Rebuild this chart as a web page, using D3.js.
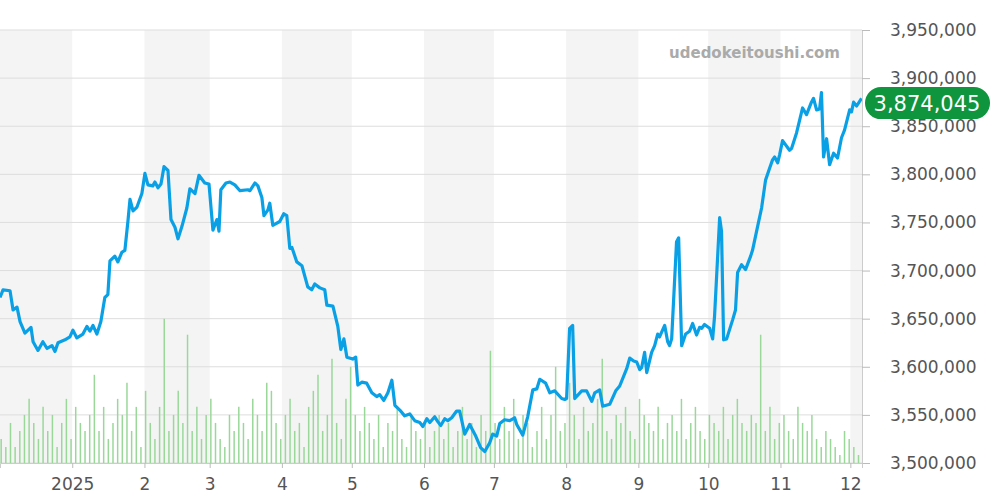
<!DOCTYPE html>
<html><head><meta charset="utf-8">
<script src="https://cdn.jsdelivr.net/npm/d3@7"></script>
<style>body{margin:0;background:#fff;font-family:"DejaVu Sans",sans-serif}</style>
</head><body>
<script>
// days since 2024-12-01 and price
var priceDays = [0,1.3,4.3,5.6,7.3,8.6,10.7,13.3,14.2,16.3,18.4,20.2,22.3,23.6,24.9,27.9,30,31.3,33,35.6,37.3,38.6,39.9,41.6,43.3,45,46.3,47.2,49.3,50.6,52.3,53.6,54.9,55.8,57.1,58.8,60.9,62.2,63.5,65.6,66.5,67.8,69.1,70.4,72.1,73.4,75.1,76.4,78.1,80.2,81.5,83.7,85.4,87.9,89.7,91.4,93.1,94,94.8,97,98.7,100.8,103,106.4,107.3,109.4,110.7,112.4,113.3,115,115.8,117.1,120.1,121.8,123.1,124.4,125.3,127.4,129.6,132.1,133.8,135.1,137.3,139.4,140.3,142.9,145,146.3,147.6,148.9,151.4,152.7,153.6,155.3,157.4,159.6,161.7,163,164.7,166.5,168.2,169.5,171.6,173.7,175.9,178,180.2,181.5,183.2,184.5,186.6,187.9,189.2,190.9,192.2,193.9,196,197.3,199.5,201.6,204.2,206.3,208.1,210.2,211.5,213.2,214.5,216.6,218.8,220.9,221.8,224.4,226.5,228.7,230.4,231.7,234.2,236,238.1,241.1,242.4,243.2,244.5,245.8,246.7,249.7,251.8,254,255.3,257.4,258.7,261.7,264.3,266,269,270.3,272,273.3,274.6,275.4,276.7,277.6,279.7,281,282.3,283.1,285.3,286.6,287.4,288.3,290.4,291.3,292.6,294.3,296,297.3,299,300.3,301.2,302.4,304.6,305.9,306.7,308.9,309.7,310.6,311.9,314.5,315.7,316.6,318.3,320,322.2,323,325.2,326.9,328.6,330.3,331.6,332.5,333.8,334.6,335.9,338.9,339.8,341.9,343.2,344.5,346.2,348.3,349.2,350.5,351.8,352.6,353.5,354.8,356.1,357.8,359.5,361.2,362.5,364.7,365.5,366.4,367.7,369.8];
var priceVals = [3672,3680,3679,3659,3662,3647,3635,3641,3626,3617,3626,3619,3622,3616,3625,3628,3631,3638,3630,3634,3642,3637,3643,3634,3647,3672,3675,3710,3715,3709,3719,3721,3751,3774,3762,3766,3780,3801,3789,3788,3792,3786,3790,3808,3804,3753,3745,3733,3746,3765,3785,3780,3799,3791,3790,3742,3753,3741,3784,3791,3792,3789,3783,3784,3783,3791,3788,3776,3757,3763,3770,3747,3751,3759,3757,3723,3724,3709,3705,3683,3680,3686,3682,3680,3664,3663,3642,3618,3629,3610,3608,3610,3581,3584,3583,3573,3569,3571,3565,3573,3586,3560,3555,3549,3551,3544,3542,3538,3546,3542,3548,3543,3539,3546,3544,3547,3554,3554,3530,3540,3528,3516,3512,3521,3530,3528,3541,3545,3544,3547,3540,3529,3548,3576,3577,3587,3583,3573,3575,3567,3566,3567,3640,3643,3567,3575,3575,3564,3573,3576,3559,3561,3575,3580,3598,3609,3606,3605,3597,3599,3615,3594,3615,3622,3634,3631,3643,3626,3622,3629,3730,3734,3622,3634,3637,3645,3633,3641,3640,3644,3640,3629,3652,3755,3741,3628,3629,3649,3659,3698,3706,3701,3715,3721,3746,3765,3794,3806,3815,3818,3812,3820,3835,3825,3827,3843,3856,3869,3862,3875,3879,3867,3868,3885,3818,3837,3810,3822,3817,3838,3846,3867,3865,3875,3871,3879,3874];
// trade counts, one per two days
var volumes = [3,2,5,2,4,6,8,5,3,7,4,6,2,5,8,3,7,5,4,6,
  11,4,7,3,5,8,6,10,4,7,2,9,5,3,7,18,4,6,9,5,
  16,4,7,3,6,8,5,3,2,6,4,7,5,3,8,6,4,10,9,5,
  3,6,8,4,5,2,7,9,11,4,6,13,5,3,8,12,6,4,7,5,
  3,6,2,5,4,7,3,2,6,4,3,5,2,4,6,3,5,2,4,7,
  3,5,2,6,4,14,5,3,7,4,8,3,6,5,2,4,7,3,6,12,
  4,5,10,6,3,7,4,5,8,13,4,3,6,5,7,4,3,8,6,5,
  4,7,3,5,6,4,8,3,5,7,4,3,6,5,4,7,3,6,8,5,
  4,6,5,16,4,7,3,5,6,4,3,7,5,4,6,3,2,4,3,2,
  1,4,3,2,1];
var yTicks = [3500000,3550000,3600000,3650000,3700000,3750000,3800000,3850000,3900000,3950000];
var lastPrice = 3874045;

var W = 1000, H = 500, plotR = 862, plotTop = 30, plotBottom = 463;
var start = new Date(2024, 11, 1), end = new Date(2025, 11, 6);
var dayMs = 864e5;
var x = d3.scaleTime().domain([start, end]).range([0, plotR]);
var y = d3.scaleLinear().domain([3500000, 3950000]).range([plotBottom, plotTop]);
var yv = d3.scaleLinear().domain([0, 54]).range([plotBottom, plotTop]);
var toDate = function(d){ return new Date(start.getTime() + d * dayMs); };

var svg = d3.select("body").append("svg").attr("width", W).attr("height", H);

// alternate month shading
var months = d3.timeMonth.range(start, d3.timeMonth.offset(end, 1));
svg.selectAll(".band").data(months.filter(function(m, i){ return i % 2 == 0; }))
  .enter().append("rect")
  .attr("x", function(m){ return x(m); })
  .attr("width", function(m){ return Math.min(x(d3.timeMonth.offset(m, 1)), plotR) - x(m); })
  .attr("y", plotTop).attr("height", plotBottom - plotTop)
  .attr("fill", "#f4f4f4");

// grid
svg.selectAll(".grid").data(yTicks).enter().append("line")
  .attr("x1", 0).attr("x2", plotR)
  .attr("y1", function(d){ return y(d); }).attr("y2", function(d){ return y(d); })
  .attr("stroke", "#dddddd");

// volume
svg.selectAll(".vol").data(volumes).enter().append("line")
  .attr("x1", function(d, i){ return x(toDate(i * 2 + 0.5)); })
  .attr("x2", function(d, i){ return x(toDate(i * 2 + 0.5)); })
  .attr("y1", plotBottom).attr("y2", function(d){ return yv(d); })
  .attr("stroke", "#9ad89a").attr("stroke-width", 1.5);

// watermark
svg.append("text").attr("x", 840).attr("y", 58).attr("text-anchor", "end")
  .attr("font-size", 15).attr("font-weight", "bold").attr("fill", "#aaaaaa")
  .text("udedokeitoushi.com");

// price line
var pts = priceDays.map(function(d, i){ return [toDate(d), priceVals[i] * 1000]; });
svg.append("path").datum(pts)
  .attr("fill", "none").attr("stroke", "#0aa0e6").attr("stroke-width", 3.2)
  .attr("stroke-linejoin", "round")
  .attr("d", d3.line().x(function(d){ return x(d[0]); }).y(function(d){ return y(d[1]); }));

// y axis
var yAxis = d3.axisRight(y).tickValues(yTicks).tickSize(8).tickPadding(20)
  .tickFormat(d3.format(","));
var gy = svg.append("g").attr("transform", "translate(" + plotR + ",0)").call(yAxis);
gy.select(".domain").attr("stroke", "#cccccc");
gy.selectAll(".tick line").attr("stroke", "#bbbbbb");
gy.selectAll("text").attr("font-size", 17).attr("fill", "#555").attr("font-family", "DejaVu Sans");

// x axis
var xAxis = d3.axisBottom(x).tickValues(months.slice(1).filter(function(m){ return m <= end; }))
  .tickSize(5).tickPadding(10)
  .tickFormat(function(m){ return m.getMonth() == 0 ? m.getFullYear() : (m.getMonth() + 1); });
var gx = svg.append("g").attr("transform", "translate(0," + plotBottom + ")").call(xAxis);
gx.select(".domain").attr("stroke", "#cccccc");
gx.selectAll(".tick line").attr("stroke", "#bbbbbb");
gx.selectAll("text").attr("font-size", 17).attr("fill", "#555").attr("font-family", "DejaVu Sans");

// last price badge
var by = y(lastPrice);
svg.append("rect").attr("x", 865).attr("y", by - 16).attr("width", 125).attr("height", 32)
  .attr("rx", 16).attr("fill", "#0e953e");
svg.append("text").attr("x", 927).attr("y", by + 8).attr("text-anchor", "middle")
  .attr("font-size", 21).attr("fill", "#fff").text(d3.format(",")(lastPrice));
</script>
</body></html>
